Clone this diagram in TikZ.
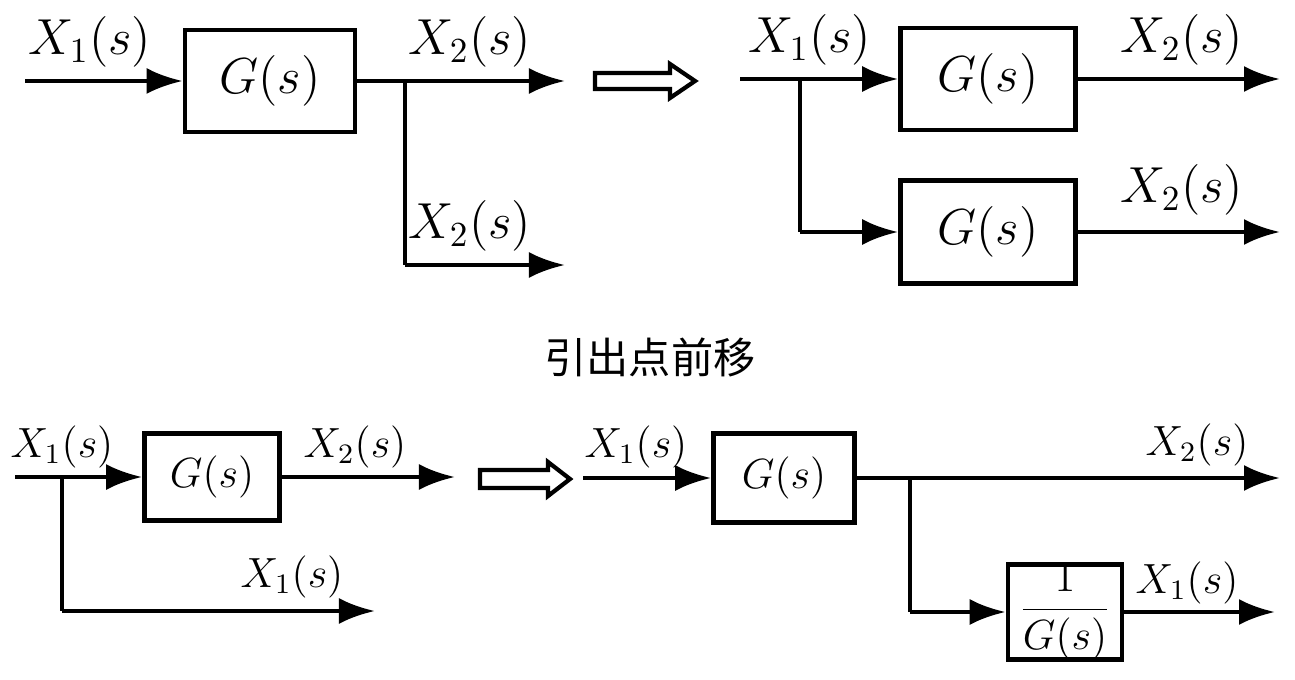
\documentclass[tikz,border=0pt]{standalone}
\usepackage{amsmath}
\usepackage{fontspec}
\newfontfamily\cjk{Noto Sans CJK SC}
\usetikzlibrary{arrows.meta}
\begin{document}
\begin{tikzpicture}[
    x=0.01cm, y=-0.01cm,
    block/.style={draw, line width=1.3pt, inner sep=0pt, font=\Large},
    sig/.style={-{Latex[length=3.6mm,width=2.6mm]}, line width=1.3pt},
    wire/.style={line width=1.3pt},
    lab/.style={font=\Large},
    slab/.style={font=\large},
    hollow/.style={draw, line width=1.2pt, fill=white}
]
\useasboundingbox (0,0) rectangle (1295,679);

% Oben links
\node[block, minimum width=1.7cm, minimum height=1.02cm] (g1) at (270,81) {$G(s)$};
\coordinate (in1) at (25,81);
\coordinate (out1) at (565,81);
\coordinate (p1) at (405,81);
\coordinate (q1) at (405,265);
\coordinate (out1b) at (565,265);
\draw[sig] (in1) -- (g1.west);
\draw[sig] (g1.east) -- (out1);
\draw[wire] (p1) -- (q1);
\draw[sig] (q1) -- (out1b);
\node[lab] at (90,42) {$X_1(s)$};
\node[lab] at (470,42) {$X_2(s)$};
\node[lab] at (470,226) {$X_2(s)$};

% Hohlpfeil oben
\draw[hollow] (595,73) -- (670,73) -- (670,64) -- (695,81) -- (670,98) -- (670,89) -- (595,89) -- cycle;

% Oben rechts
\node[block, minimum width=1.75cm, minimum height=1.02cm] (g2) at (988,79) {$G(s)$};
\node[block, minimum width=1.75cm, minimum height=1.03cm] (g3) at (988,232) {$G(s)$};
\coordinate (in2) at (740,79);
\coordinate (p2) at (800,79);
\coordinate (q2) at (800,232);
\coordinate (out2) at (1280,79);
\coordinate (out3) at (1280,232);
\draw[sig] (in2) -- (g2.west);
\draw[sig] (g2.east) -- (out2);
\draw[wire] (p2) -- (q2);
\draw[sig] (q2) -- (g3.west);
\draw[sig] (g3.east) -- (out3);
\node[lab] at (810,40) {$X_1(s)$};
\node[lab] at (1182,40) {$X_2(s)$};
\node[lab] at (1182,190) {$X_2(s)$};

% Titel
\node[font=\cjk\large] (title) at (650,357) {引出点前移};

% Unten links
\node[block, font=\large, minimum width=1.35cm, minimum height=0.87cm] (g4) at (212,477) {$G(s)$};
\coordinate (in4) at (15,477);
\coordinate (p4) at (62,477);
\coordinate (q4) at (62,611);
\coordinate (out4) at (455,477);
\coordinate (out4b) at (375,611);
\draw[sig] (in4) -- (g4.west);
\draw[sig] (g4.east) -- (out4);
\draw[wire] (p4) -- (q4);
\draw[sig] (q4) -- (out4b);
\node[slab] at (62,447) {$X_1(s)$};
\node[slab] at (355,447) {$X_2(s)$};
\node[slab] at (292,577) {$X_1(s)$};

% Hohlpfeil unten
\draw[hollow] (480,470) -- (548,470) -- (548,462) -- (570,479) -- (548,496) -- (548,488) -- (480,488) -- cycle;

% Unten rechts
\node[block, font=\large, minimum width=1.41cm, minimum height=0.89cm] (g5) at (784,478) {$G(s)$};
\node[block, font=\large, minimum width=1.14cm, minimum height=0.95cm] (g6) at (1065,612) {$\dfrac{1}{G(s)}$};
\coordinate (in5) at (583,478);
\coordinate (p5) at (910,478);
\coordinate (q5) at (910,612);
\coordinate (out5) at (1280,478);
\coordinate (out6) at (1275,612);
\draw[sig] (in5) -- (g5.west);
\draw[sig] (g5.east) -- (out5);
\draw[wire] (p5) -- (q5);
\draw[sig] (q5) -- (g6.west);
\draw[sig] (g6.east) -- (out6);
\node[slab] at (636,447) {$X_1(s)$};
\node[slab] at (1197,445) {$X_2(s)$};
\node[slab] at (1187,583) {$X_1(s)$};
\end{tikzpicture}
\end{document}
